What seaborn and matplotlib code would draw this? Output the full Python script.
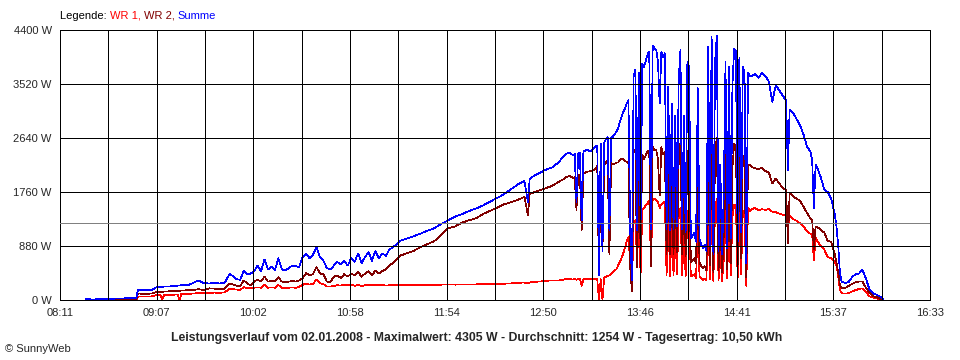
import numpy as np
import pandas as pd
import matplotlib
matplotlib.use("Agg")
import matplotlib.pyplot as plt
import seaborn as sns

zeiten = [
    "08:26", "08:28", "08:29", "08:34", "08:40", "08:46", "08:52", "08:55", "08:56", "09:00",
    "09:04", "09:07", "09:09", "09:10", "09:11", "09:13", "09:16", "09:19", "09:20", "09:21",
    "09:25", "09:28", "09:31", "09:34", "09:37", "09:40", "09:43", "09:46", "09:49", "09:51",
    "09:53", "09:55", "09:57",
    "09:59", "10:01", "10:03", "10:05", "10:07", "10:09", "10:11", "10:13", "10:15", "10:17",
    "10:19", "10:21", "10:23", "10:25", "10:27", "10:29", "10:31", "10:33", "10:35", "10:37",
    "10:39", "10:41", "10:43", "10:45", "10:47", "10:49", "10:51", "10:53", "10:55", "10:57", "10:59",
    "11:01", "11:03", "11:05", "11:07", "11:09", "11:11", "11:13", "11:15", "11:17", "11:19",
    "11:21", "11:23", "11:25",
    "11:27", "11:31", "11:35", "11:39",
    "11:43", "11:47", "11:51", "11:55", "11:59", "12:03", "12:07", "12:11", "12:15", "12:19",
    "12:23", "12:27", "12:31", "12:35", "12:39", "12:41", "12:42", "12:43", "12:47", "12:51",
    "12:55", "12:59",
    "13:01", "13:03", "13:05", "13:07", "13:08", "13:09", "13:10", "13:11", "13:12", "13:13",
    "13:15", "13:17", "13:19",
    "13:20", "13:21", "13:22", "13:23", "13:24", "13:25", "13:26", "13:27", "13:28", "13:29",
    "13:30", "13:31", "13:32", "13:33", "13:34", "13:35", "13:36", "13:37", "13:38", "13:39",
    "13:40", "13:41", "13:42", "13:43", "13:44", "13:45", "13:46", "13:47", "13:48", "13:49",
    "13:50", "13:51", "13:52", "13:53", "13:54", "13:55", "13:56", "13:57", "13:58", "13:59",
    "14:00", "14:01", "14:02", "14:03", "14:04", "14:05", "14:06", "14:07", "14:08", "14:09",
    "14:10", "14:11", "14:12", "14:13", "14:14", "14:15", "14:16", "14:17", "14:18", "14:19",
    "14:20", "14:21", "14:22", "14:23", "14:24", "14:25", "14:26", "14:27", "14:28", "14:29",
    "14:30", "14:31", "14:32", "14:33", "14:34", "14:35", "14:36", "14:37", "14:38", "14:39",
    "14:40", "14:41", "14:42", "14:43", "14:44", "14:45", "14:46", "14:47", "14:48", "14:49",
    "14:50",
    "14:52", "14:54", "14:56", "14:58", "15:00", "15:02", "15:04", "15:06", "15:08", "15:10",
    "15:11", "15:12", "15:14", "15:16", "15:18", "15:20", "15:22", "15:24", "15:25", "15:26",
    "15:27", "15:28", "15:30", "15:32", "15:34", "15:36", "15:38", "15:39", "15:40", "15:41",
    "15:42", "15:44", "15:46", "15:48", "15:50", "15:52", "15:54", "15:56", "15:58", "16:00",
    "16:02", "16:04", "16:06",
]

summe = [
    15, 15, 0, 20, 20, 25, 30, 35, 160, 160,
    165, 215, 215, 215, 220, 220, 225, 235, 240, 240,
    245, 280, 320, 275, 270, 275, 270, 280, 430, 380,
    340, 330, 480,
    420, 430, 470, 560, 470, 660, 500, 540, 490, 680,
    500, 480, 520, 560, 550, 540, 700, 760, 680, 740,
    860, 700, 640, 520, 500, 560, 620, 580, 640, 560, 680,
    620, 760, 600, 700, 780, 640, 800, 680, 760, 720,
    820, 860, 900,
    960, 1000, 1040, 1080,
    1130, 1170, 1240, 1300, 1360, 1400, 1450, 1490, 1540, 1600,
    1660, 1720, 1800, 1880, 1940, 1600, 1970, 2000, 2060, 2120,
    2160, 2250,
    2330, 2380, 2400, 2360, 2380, 1600, 2380, 2400, 1300, 2420,
    2450, 2420, 2480,
    2500, 2520, 400, 2550, 790, 2560, 2620, 2660, 1140, 2650,
    2660, 2700, 2740, 2800, 2900, 2980, 3060, 3120, 3200, 3260,
    1140, 330, 3650, 3750, 1140, 3700, 1200, 3850, 3800, 3900,
    4000, 4050, 1150, 4150, 4100, 4080, 3900, 3200, 4050, 3950,
    4020, 1150, 3480, 1130, 3200, 1150, 3000, 1200, 3600, 4075,
    1150, 3000, 1100, 3880, 3800, 1000, 1050, 1100, 950, 3450,
    1000, 900, 850, 900, 800, 4130, 900, 4290, 750, 3900,
    4300, 800, 2200, 750, 1700, 3880, 850, 3800, 1000, 3500,
    4100, 4050, 900, 3950, 1100, 3800, 3700, 600, 3700, 3650,
    3650,
    3680, 3620, 3700, 3650, 3560, 3230, 3500, 3420, 3330, 3250,
    2120, 3100, 3050, 2950, 2850, 2700, 2500, 2420, 2280, 1500,
    2200, 2150, 2000, 1800, 1760, 1650, 1400, 1200, 900, 450,
    300, 280, 290, 370, 420, 430, 490, 350, 180, 110,
    90, 60, 20,
]

wr2 = [
    0, 0, 0, 0, 0, 0, 0, 0, 105, 100,
    105, 135, 136, 136, 136, 140, 145, 150, 150, 155,
    160, 165, 175, 165, 190, 185, 180, 185, 270, 250,
    230, 225, 320,
    270, 240, 300, 330, 300, 380, 300, 310, 300, 370,
    300, 290, 300, 310, 300, 320, 350, 440, 400, 420,
    540, 430, 420, 300, 290, 380, 400, 360, 420, 380, 430,
    400, 460, 380, 430, 470, 400, 480, 430, 470, 500,
    560, 600, 660,
    720, 760, 800, 860,
    910, 960, 1060, 1170, 1200, 1260, 1300, 1330, 1400, 1450,
    1500, 1560, 1590, 1630, 1680, 1385, 1720, 1740, 1780, 1820,
    1860, 1930,
    1960, 2000, 2020, 1990, 2000, 1470, 2040, 2040, 1140, 2060,
    2090, 2100, 2120,
    2150, 2180, 400, 2200, 790, 2200, 2240, 2270, 740, 2230,
    2210, 2220, 2240, 2240, 2280, 2300, 2300, 2270, 2250, 2230,
    540, 150, 2400, 2450, 540, 2300, 800, 2370, 2300, 2360,
    2420, 2430, 550, 2500, 2450, 2450, 2300, 1700, 2490, 2370,
    2420, 750, 2080, 750, 1950, 750, 1850, 780, 2250, 2575,
    750, 1900, 720, 2430, 2400, 620, 650, 680, 600, 2150,
    620, 550, 520, 550, 480, 2580, 560, 2640, 450, 2400,
    2650, 480, 1350, 450, 1050, 2400, 500, 2350, 600, 2150,
    2550, 2500, 550, 2450, 680, 2350, 2280, 370, 2200, 2200,
    2170,
    2150, 2130, 2160, 2100, 2080, 1900, 1980, 1900, 1830, 1790,
    930, 1740, 1690, 1650, 1620, 1520, 1420, 1330, 1300, 820,
    1200, 1190, 1140, 1100, 960, 950, 750, 620, 450, 250,
    190, 195, 230, 260, 290, 300, 300, 200, 120, 60,
    50, 20, 0,
]

wr1 = [
    0, 0, 0, 0, 0, 0, 0, 0, 55, 55,
    60, 80, 80, 0, 81, 81, 85, 90, 0, 98,
    100, 105, 115, 110, 118, 120, 118, 122, 190, 175,
    170, 165, 210,
    190, 200, 200, 205, 200, 245, 200, 205, 200, 245,
    195, 195, 200, 205, 200, 215, 245, 270, 250, 265,
    330, 275, 260, 220, 220, 230, 240, 235, 250, 240, 255,
    230, 250, 225, 240, 250, 235, 250, 240, 245, 235,
    240, 240, 245,
    245, 245, 250, 245,
    250, 250, 250, 255, 250, 255, 255, 255, 260, 255,
    260, 265, 270, 280, 285, 270, 285, 290, 300, 310,
    320, 320,
    330, 340, 340, 335, 340, 330, 340, 340, 230, 340,
    345, 340, 350,
    345, 340, 0, 340, 0, 360, 380, 390, 400, 420,
    450, 480, 500, 560, 620, 680, 760, 850, 950, 1030,
    600, 180, 1250, 1300, 600, 1400, 400, 1480, 1500, 1540,
    1580, 1620, 600, 1650, 1650, 1630, 1600, 1500, 1560, 1580,
    1600, 400, 1400, 380, 1250, 400, 1150, 420, 1350, 1500,
    400, 1100, 380, 1450, 1400, 380, 400, 420, 350, 1300,
    380, 350, 330, 350, 320, 1550, 340, 1650, 300, 1500,
    1650, 320, 850, 300, 650, 1480, 350, 1450, 400, 1350,
    1550, 1550, 350, 1500, 420, 1450, 1420, 230, 1500, 1450,
    1480,
    1500, 1460, 1480, 1470, 1480, 1440, 1430, 1410, 1390, 1380,
    1150, 1370, 1320, 1290, 1250, 1200, 1120, 1080, 1060, 650,
    1020, 960, 880, 820, 700, 680, 620, 560, 400, 170,
    110, 105, 110, 140, 160, 180, 190, 140, 60, 40,
    30, 10, 0,
]

y_ticks = [0, 880, 1760, 2640, 3520, 4400]
x_labels = ["08:11", "09:07", "10:02", "10:58", "11:54", "12:50", "13:46", "14:41", "15:37", "16:33"]
durchschnitt = 1254
farben = {"WR 1": "#ff0000", "WR 2": "#800000", "Summe": "#0000ff"}
px = 0.7  # ca. 1 Pixel bei 100 dpi


def in_minuten(s):
    h, m = s.split(":")
    return int(h) * 60 + int(m)


df = pd.DataFrame({"min": [in_minuten(t) for t in zeiten], "WR 1": wr1, "WR 2": wr2, "Summe": summe})
long = df.melt(id_vars="min", var_name="serie", value_name="watt")

sns.set_style("white")
plt.rcParams["font.family"] = ["Liberation Sans", "DejaVu Sans"]

fig = plt.figure(figsize=(9.6, 3.6), dpi=100)
ax = fig.add_axes([60 / 960, 60 / 360, 870 / 960, 270 / 360])

sns.lineplot(data=long, x="min", y="watt", hue="serie", hue_order=["WR 1", "WR 2", "Summe"],
             palette=farben, estimator=None, sort=False, linewidth=0.5, legend=False,
             antialiased=False, ax=ax)

ax.axhline(durchschnitt, color="#808080", linewidth=px, zorder=3, antialiased=False)

start, ende = in_minuten(x_labels[0]), in_minuten(x_labels[-1])
xt = np.linspace(start, ende, 19)
ax.set_xlim(start, ende)
ax.set_ylim(0, 4400)
ax.set_xticks(xt)
ax.set_xticklabels([x_labels[i // 2] if i % 2 == 0 else "" for i in range(19)])
ax.set_yticks(y_ticks)
ax.set_yticklabels([f"{v} W" for v in y_ticks])
ax.set_xlabel("")
ax.set_ylabel("")

ax.set_axisbelow(False)
ax.grid(True, color="black", linewidth=px, antialiased=False)
for sp in ax.spines.values():
    sp.set_color("black")
    sp.set_linewidth(px)
    sp.set_antialiased(False)
ax.tick_params(direction="out", length=3, width=px, color="black", labelsize=8, pad=3)

# Legende oben links, farbige Einzelteile
renderer = fig.canvas.get_renderer()
x = 60 / 960
for txt, col in [("Legende: ", "black"), ("WR 1, ", farben["WR 1"]), ("WR 2, ", farben["WR 2"]), ("Summe", farben["Summe"])]:
    t = fig.text(x, 1 - 16 / 360, txt, color=col, fontsize=8, va="center", ha="left")
    x += t.get_window_extent(renderer=renderer).width / fig.bbox.width

fig.text(0.497, 1 - 338 / 360,
         "Leistungsverlauf vom 02.01.2008 - Maximalwert: 4305 W - Durchschnitt: 1254 W - Tagesertrag: 10,50 kWh",
         ha="center", va="center", fontsize=8.8, fontweight="bold")
fig.text(5 / 960, 1 - 349 / 360, "\u00a9 SunnyWeb", ha="left", va="center", fontsize=8)

fig.savefig("out.png", dpi=100)
